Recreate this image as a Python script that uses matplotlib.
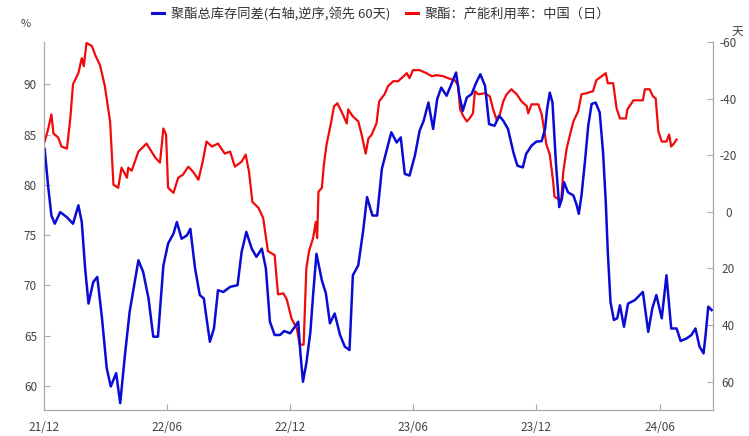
import matplotlib
matplotlib.use('Agg')
import matplotlib.pyplot as plt
import matplotlib.dates as mdates
from matplotlib.lines import Line2D
import pandas as pd

# 中文字体
plt.rcParams['font.family'] = ['Noto Sans CJK SC', 'DejaVu Sans']
plt.rcParams['axes.unicode_minus'] = False

# 数据: 距 2021-12-01 的天数 + 数值
base_date = '2021-12-01'

# 聚酯：产能利用率：中国（日） 左轴 %
red_days = [1, 6, 11, 14, 21, 26, 34, 39, 43, 51, 56, 59, 63, 71, 76, 83, 90, 98, 103,
            110, 115, 123, 125, 130, 140, 152, 165, 172, 177, 181, 184, 192, 199, 206,
            214, 221, 229, 235, 241, 249, 258, 268, 276, 283, 293, 299, 304, 309, 318,
            325, 332, 342, 347, 355, 360, 367, 375, 379, 385, 389, 393, 399, 403, 405,
            407, 412, 415, 419, 423, 426, 430, 435, 441, 449, 451, 458, 466, 471, 477,
            481, 486, 493, 497, 505, 510, 518, 525, 535, 538, 542, 547, 557, 567, 575,
            582, 592, 599, 609, 614, 617, 622, 627, 631, 636, 639, 644, 654, 661, 666,
            671, 676, 681, 686, 693, 701, 708, 716, 718, 723, 733, 738, 745, 750, 755,
            757, 765, 767, 770, 775, 780, 785, 792, 797, 804, 814, 819, 827, 833, 836,
            844, 849, 854, 863, 865, 874, 888, 891, 898, 903, 907, 911, 916, 923, 927,
            930, 934, 938]
red_vals = [84.3, 85.5, 87.0, 85.1, 84.7, 83.8, 83.6, 86.6, 90.0, 91.1, 92.6, 91.8, 94.1,
            93.8, 92.9, 91.9, 89.9, 86.3, 80.0, 79.7, 81.7, 80.7, 81.7, 81.4, 83.3, 84.1,
            82.7, 82.2, 85.6, 85.0, 79.7, 79.2, 80.7, 81.0, 81.8, 81.3, 80.5, 82.2, 84.3,
            83.8, 84.1, 83.1, 83.3, 81.8, 82.3, 83.0, 81.3, 78.3, 77.7, 76.7, 73.4, 73.0,
            69.1, 69.2, 68.6, 66.7, 65.7, 64.1, 64.1, 71.7, 73.4, 74.7, 76.3, 74.7, 79.3,
            79.7, 82.0, 84.0, 85.3, 86.3, 87.8, 88.1, 87.3, 86.1, 87.5, 86.8, 86.3, 85.0,
            83.1, 84.6, 85.0, 86.1, 88.3, 89.0, 89.8, 90.3, 90.3, 90.9, 91.1, 90.6, 91.4,
            91.4, 91.1, 90.8, 90.9, 90.8, 90.6, 90.4, 89.9, 87.5, 86.8, 86.3, 86.6, 87.1,
            89.3, 89.0, 89.1, 88.8, 87.5, 86.5, 87.0, 88.3, 89.0, 89.5, 89.0, 88.3, 87.8,
            87.1, 88.0, 88.0, 87.0, 84.0, 83.0, 80.3, 78.8, 78.5, 78.5, 81.3, 83.6, 85.0,
            86.3, 87.3, 89.0, 89.1, 89.3, 90.4, 90.8, 91.1, 90.1, 90.1, 87.6, 86.6, 86.6,
            87.5, 88.4, 88.4, 89.5, 89.5, 88.8, 88.6, 85.3, 84.3, 84.3, 85.0, 83.8, 84.1,
            84.5]

# 聚酯总库存同差 右轴(逆序) 天, 已领先60天
blue_days = [1, 6, 11, 16, 24, 34, 43, 51, 56, 61, 66, 73, 79, 86, 93, 99, 107, 113, 120,
             127, 140, 147, 155, 162, 169, 177, 184, 192, 197, 204, 212, 217, 224, 231,
             237, 241, 246, 252, 258, 266, 276, 287, 293, 300, 308, 315, 323, 329, 335,
             342, 350, 356, 365, 372, 377, 380, 384, 389, 395, 399, 404, 412, 418, 424,
             431, 439, 446, 453, 458, 466, 473, 479, 487, 494, 501, 508, 515, 523, 529,
             532, 535, 542, 550, 557, 563, 570, 577, 583, 589, 597, 604, 611, 616, 621,
             627, 634, 641, 647, 654, 660, 668, 675, 681, 688, 696, 702, 710, 715, 723,
             730, 738, 743, 746, 750, 754, 759, 764, 768, 771, 777, 785, 790, 793, 797,
             802, 807, 812, 818, 824, 829, 833, 836, 840, 845, 850, 854, 860, 866, 876,
             888, 896, 902, 908, 916, 923, 930, 938, 944, 953, 960, 966, 972, 978, 981,
             985, 990]
blue_vals = [-22.2, -9.3, 1.3, 4.2, 0.1, 1.9, 4.2, -2.3, 3.6, 20, 32.4, 24.8, 23, 37.6,
             55.2, 61.7, 57, 67.6, 50.6, 35.3, 17.1, 21.2, 30.6, 44.1, 44.1, 19, 11.2,
             7.7, 3.6, 9.5, 8.3, 6, 20, 29.4, 30.6, 37.6, 45.9, 41.2, 27.7, 28.3, 26.5,
             25.9, 14.2, 7.1, 13, 15.9, 13, 20, 38.8, 43.5, 43.5, 42.1, 42.9, 40.6, 38.8,
             49.4, 60, 53.5, 42.4, 29.4, 14.8, 24.2, 28.8, 39.4, 35.9, 43.5, 47.6, 48.8,
             22.4, 18.9, 7.1, -5.2, 1.3, 1.3, -15.2, -21.6, -28.1, -24.5, -26.3, -19.9,
             -13.4, -12.8, -19.9, -28.7, -32.2, -38.6, -29.3, -39.8, -43.9, -41, -45.1,
             -49.2, -41, -35.7, -40.4, -41.6, -45.7, -48.6, -44.5, -31, -30.4, -33.9,
             -32.2, -29.3, -21, -16.3, -15.7, -20.5, -23.4, -24.8, -25, -29.3, -36.3,
             -42.1, -38.6, -17.5, -1.7, -4.6, -10.5, -6.9, -5.8, -2.3, 0.7, -5.8, -17.5,
             -30.4, -38.1, -38.6, -35.1, -21, -3.4, 14.2, 31.8, 38.2, 37.6, 33, 40.6,
             32.4, 31.2, 28.3, 42.4, 34.1, 29.4, 37.6, 22.4, 41.2, 41.2, 45.6, 44.7, 43.5,
             41.2, 47.6, 50, 43.5, 33.5, 34.7]

left_ticks = [60, 65, 70, 75, 80, 85, 90]
right_ticks = [-60, -40, -20, 0, 20, 40, 60]

base = pd.Timestamp(base_date)
red_dates = base + pd.to_timedelta(red_days, unit='D')
blue_dates = base + pd.to_timedelta(blue_days, unit='D')

blue_color = '#0b0bd6'
red_color = '#f00a0a'
axis_color = '#a8a8a8'
text_color = '#444444'

fig = plt.figure(figsize=(7.49, 4.36), dpi=100)
ax = fig.add_axes([44 / 749, 26 / 436, (713 - 44) / 749, (410 - 42) / 436])
ax2 = ax.twinx()

ax.plot(red_dates, red_vals, color=red_color, lw=1.6)
ax2.plot(blue_dates, blue_vals, color=blue_color, lw=1.8)

ax.set_xlim(base, base + pd.Timedelta(days=992))
ax.set_ylim(57.6, 94.2)
ax.set_yticks(left_ticks)
ax2.set_ylim(70, -60)
ax2.set_yticks(right_ticks)

ax.xaxis.set_major_locator(mdates.MonthLocator(bymonth=[6, 12]))
ax.xaxis.set_major_formatter(mdates.DateFormatter('%y/%m'))

for a in (ax, ax2):
    a.spines['top'].set_visible(False)
    for s in ('left', 'right', 'bottom'):
        a.spines[s].set_color(axis_color)
        a.spines[s].set_linewidth(0.8)
ax.tick_params(axis='x', direction='in', length=4, color=axis_color,
               labelcolor=text_color, labelsize=8.5, pad=8)
ax.tick_params(axis='y', direction='in', length=4, color=axis_color,
               labelcolor=text_color, labelsize=8.5, pad=5)
ax2.tick_params(axis='y', direction='in', length=4, color=axis_color,
                labelcolor=text_color, labelsize=8.5, pad=11)
for t in ax2.get_yticklabels():
    t.set_horizontalalignment('center')

fig.text(26 / 749, 1 - 24 / 436, '%', ha='center', va='center', fontsize=8, color=text_color)
fig.text(737 / 749, 1 - 31 / 436, '天', ha='center', va='center', fontsize=8.5, color=text_color)

handles = [Line2D([], [], color=blue_color, lw=2.2),
           Line2D([], [], color=red_color, lw=2.2)]
labels = ['聚酯总库存同差(右轴,逆序,领先 60天)', '聚酯：产能利用率：中国（日）']
fig.legend(handles, labels, loc='center', bbox_to_anchor=(381 / 749, 1 - 14 / 436),
           ncol=2, frameon=False, fontsize=9.5, handlelength=0.9, handletextpad=0.5,
           columnspacing=1.2, labelcolor='#333333')

fig.savefig('out.png', dpi=100)
